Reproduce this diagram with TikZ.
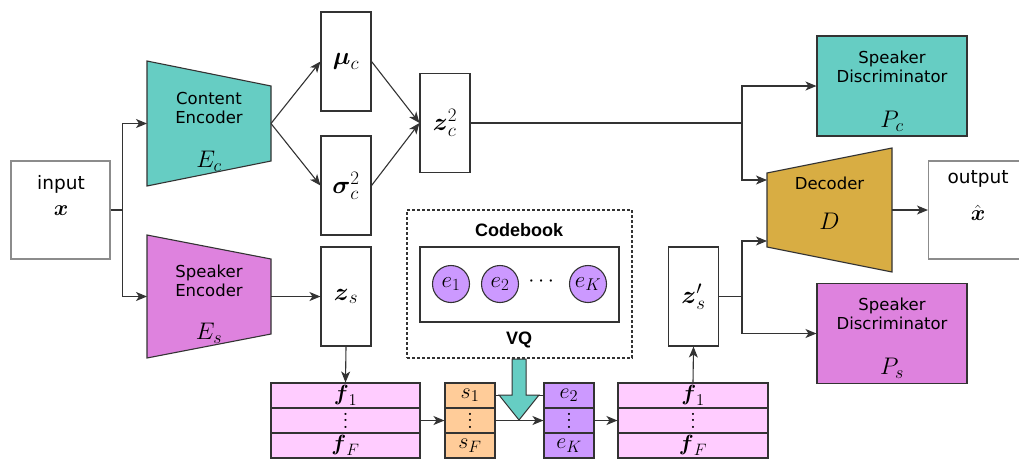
\RequirePackage{fix-cm}
\documentclass[tikz,border=0pt]{standalone}
\usepackage{amsmath}
\usepackage{fontspec}
\setmainfont{DejaVu Sans}
\newfontfamily\cbfont{Liberation Sans}
\usetikzlibrary{arrows.meta}
\definecolor{encteal}{HTML}{66CDC3}
\definecolor{encpink}{HTML}{DE82DE}
\definecolor{decgold}{HTML}{D8AD43}
\definecolor{rowpink}{HTML}{FFCCFF}
\definecolor{roworange}{HTML}{FFCC99}
\definecolor{rowviolet}{HTML}{CC99FF}
\definecolor{edge}{HTML}{333333}
\DeclareMathSizes{22}{22}{16.5}{12}
\DeclareMathSizes{23}{23}{17}{12}
\DeclareMathSizes{24}{24}{18}{13}
\DeclareMathSizes{25}{25}{19}{14}
\newcommand{\vdotsrow}{\vbox{\baselineskip=6.5pt\lineskiplimit=0pt\hbox{$.$}\hbox{$.$}\hbox{$.$}}}
\tikzset{
  arr/.style={-{Stealth[length=11pt,width=9pt,inset=3pt]}},
  vecbox/.style={draw=edge,fill=white,minimum width=50,minimum height=99,inner sep=0,font=\fontsize{25}{28}\selectfont},
  discbox/.style={draw=edge,minimum width=150,minimum height=100,inner sep=0},
  iobox/.style={draw=black!45,fill=white,minimum width=99,minimum height=98,inner sep=0},
  rowbox/.style={draw=edge,minimum height=25,inner sep=0},
  codeball/.style={circle,draw=edge,fill=rowviolet,minimum size=37,inner sep=0,font=\fontsize{23}{26}\selectfont},
  lbl/.style={font=\fontsize{16.5}{19.5}\selectfont,align=center,inner sep=0},
  mlbl/.style={font=\fontsize{22}{25}\selectfont,inner sep=0},
  symlbl/.style={font=\fontsize{24}{27}\selectfont,inner sep=0},
  bigtxt/.style={font=\fontsize{18.5}{22}\selectfont,inner sep=0},
  cbtxt/.style={font=\cbfont\bfseries\fontsize{18}{21}\selectfont,inner sep=0}
}

\begin{document}
\begin{tikzpicture}[x=1pt,y=-1pt,line width=1.1pt,draw=edge,every node/.append style={mlbl}]
		\useasboundingbox (0,0) rectangle (1019,459);
		% encoders and decoder
		\draw[fill=encteal] (147,61) -- (271,86) -- (271,161) -- (147,186) -- cycle;
		\draw[fill=encpink] (147,235) -- (271,259) -- (271,334) -- (147,358) -- cycle;
		\draw[fill=decgold] (767,173) -- (892,148) -- (892,272) -- (767,247) -- cycle;
		\coordinate (cenc-in) at (147,123.5);
		\coordinate (cenc-out) at (271,123.5);
		\coordinate (senc-in) at (147,296.5);
		\coordinate (senc-out) at (271,296.5);
		\coordinate (dec-in1) at (767,180);
		\coordinate (dec-in2) at (767,241);
		\coordinate (dec-out) at (892,210);
		\node[lbl] (cenc-txt) at (209,108) {Content\\Encoder};
		\node[symlbl] (cenc-sym) at (209,161) {$E_c$};
		\node[lbl] (senc-txt) at (209,281) {Speaker\\Encoder};
		\node[symlbl] (senc-sym) at (209,333) {$E_s$};
		\node[lbl] (dec-txt) at (829.5,183) {Decoder};
		\node[symlbl] (dec-sym) at (829.5,221) {$D$};

		\node[iobox] (input) at (60.5,210) {};
		\node[bigtxt] (input-txt) at (61,184) {input};
		\node (input-sym) at (61,211) {$\boldsymbol{x}$};
		\node[iobox] (output) at (978,210) {};
		\node[bigtxt] (output-txt) at (978,179) {output};
		\node (output-sym) at (978,213) {$\hat{\boldsymbol{x}}$};

		\node[vecbox] (mu) at (346,61.5) {$\boldsymbol{\mu}_c$};
		\node[vecbox] (sigma) at (346,185.5) {$\boldsymbol{\sigma}_c^2$};
		\node[vecbox] (zs) at (346,296.5) {$\boldsymbol{z}_s$};
		\node[vecbox] (zc) at (445,123) {$\boldsymbol{z}_c^2$};
		\node[vecbox] (zsp) at (693.5,296.5) {$\boldsymbol{z}'_s$};

		\node[discbox,fill=encteal] (pc) at (892,86) {};
		\node[lbl] (pc-txt) at (892,67) {Speaker\\Discriminator};
		\node[symlbl] (pc-sym) at (892,121) {$P_c$};
		\node[discbox,fill=encpink] (ps) at (892,333.5) {};
		\node[lbl] (ps-txt) at (892,314) {Speaker\\Discriminator};
		\node[symlbl] (ps-sym) at (892,368) {$P_s$};

		% codebook
		\node[draw=edge,dash pattern=on 3pt off 2pt,minimum width=225,minimum height=148] (vq) at (519.5,284) {};
		\node[draw=edge,minimum width=199,minimum height=75] (book) at (519.5,284.5) {};
		\node[cbtxt] (book-txt) at (519,230) {Codebook};
		\node[cbtxt] (vq-txt) at (519,340) {VQ};
		\node[codeball] (c1) at (451,284) {$e_1$};
		\node[codeball] (c2) at (500,284) {$e_2$};
		\node (cdots) at (543,282) {$\cdots$};
		\node[codeball] (cK) at (588,284) {$e_K$};

		% frame stacks
		\foreach \nm/\x/\w/\col/\rowa/\rowb in {fl/345.5/149/rowpink/{\boldsymbol{f}_1}/{\boldsymbol{f}_F},
			s/470/50/roworange/{s_1}/{s_F}, e/569/50/rowviolet/{e_2}/{e_K},
			fr/693/150/rowpink/{\boldsymbol{f}_1}/{\boldsymbol{f}_F}}{
			\node[rowbox,fill=\col,minimum width=\w] (\nm1) at (\x,395.5) {$\rowa$};
			\node[rowbox,fill=\col,minimum width=\w] (\nm2) at (\x,420.5) {\vdotsrow};
			\node[rowbox,fill=\col,minimum width=\w] (\nm3) at (\x,445.5) {$\rowb$};
		}

		\draw[arr] (input.east) -- ++(12,0) |- (cenc-in);
		\draw[arr] (input.east) -- ++(12,0) |- (senc-in);
		\draw[arr] (cenc-out) -- (mu.west);
		\draw[arr] (cenc-out) -- (sigma.west);
		\draw[arr] (mu.east) -- (zc.west);
		\draw[arr] (sigma.east) -- (zc.west);
		\draw[arr] (senc-out) -- (zs.west);
		\coordinate (zc-split) at (742,123);
		\draw (zc.east) -- (zc-split);
		\draw[arr] (zc-split) |- (pc.west);
		\draw[arr] (zc-split) |- (dec-in1);
		\draw[arr] (zs.south) -- (fl1.north);
		\draw[arr] (fl2.east) -- (s2.west);
		\draw (s1.east) -- (e1.west);
		\draw[arr] (s2.east) -- (e2.west);
		\draw[arr] (e2.east) -- (fr2.west);
		\draw[arr] (fr1.north) -- (zsp.south);
		\coordinate (zs-split) at (742,296.5);
		\draw (zsp.east) -- (zs-split);
		\draw[arr] (zs-split) |- (dec-in2);
		\draw[arr] (zs-split) |- (ps.west);
		\draw[arr] (dec-out) -- (output.west);
		\draw[fill=encteal,line width=1pt] (512,359) -- (526,359) -- (526,395) -- (539,395) -- (519,420) -- (499,395) -- (512,395) -- cycle;
		\end{tikzpicture}
\end{document}
